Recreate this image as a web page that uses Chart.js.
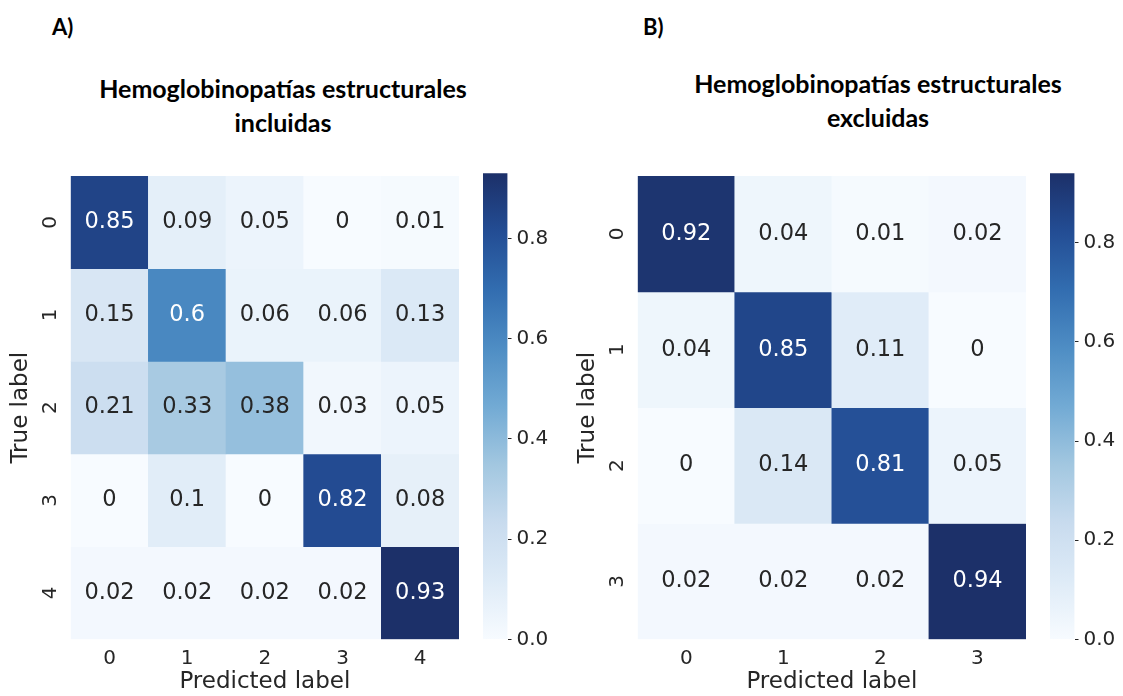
<!DOCTYPE html>
<html>
<head>
<meta charset="utf-8">
<script src="https://cdn.jsdelivr.net/npm/chart.js@4.4.1/dist/chart.umd.min.js"></script>
<style>
  html, body { margin: 0; padding: 0; background: #fff; }
  #page { position: relative; width: 1123px; height: 696px; overflow: hidden; }
  canvas { position: absolute; }
  .tag { position: absolute; font-family: Lato, "Open Sans", sans-serif; font-weight: 700;
         font-size: 22px; line-height: 26px; color: #000; }
  .ttl { position: absolute; width: 460px; font-family: Lato, "Open Sans", sans-serif; font-weight: 700;
         font-size: 25px; line-height: 34px; text-align: center; color: #000; }
</style>
</head>
<body>
<div id="page">
  <div class="tag" style="left:52px; top:14px;">A)</div>
  <div class="ttl" style="left:53px; top:71px;">Hemoglobinopatías estructurales<br>incluidas</div>
  <div class="tag" style="left:643px; top:14px;">B)</div>
  <div class="ttl" style="left:648px; top:66px;">Hemoglobinopatías estructurales<br>excluidas</div>

  <canvas id="heatA" width="470" height="546" style="left:0px; top:150px;"></canvas>
  <canvas id="barA"  width="110" height="546" style="left:470px; top:150px;"></canvas>
  <canvas id="heatB" width="470" height="546" style="left:567px; top:150px;"></canvas>
  <canvas id="barB"  width="86"  height="546" style="left:1037px; top:150px;"></canvas>
</div>

<script>
// ---- data -------------------------------------------------------------
const predictedA = ['0', '1', '2', '3', '4'];
const trueA      = ['0', '1', '2', '3', '4'];
const matrixA = [
  [0.85, 0.09, 0.05, 0,    0.01],
  [0.15, 0.6,  0.06, 0.06, 0.13],
  [0.21, 0.33, 0.38, 0.03, 0.05],
  [0,    0.1,  0,    0.82, 0.08],
  [0.02, 0.02, 0.02, 0.02, 0.93]
];

const predictedB = ['0', '1', '2', '3'];
const trueB      = ['0', '1', '2', '3'];
const matrixB = [
  [0.92, 0.04, 0.01, 0.02],
  [0.04, 0.85, 0.11, 0],
  [0,    0.14, 0.81, 0.05],
  [0.02, 0.02, 0.02, 0.94]
];

const colorbarStep = 0.2;

// ---- colour map (sequential blues) -------------------------------------
const BLUES = [
  [0.000, 247, 251, 255],
  [0.125, 222, 235, 247],
  [0.250, 200, 219, 238],
  [0.375, 162, 199, 224],
  [0.500, 114, 170, 212],
  [0.625,  78, 141, 196],
  [0.750,  50, 109, 176],
  [0.875,  35,  77, 148],
  [1.000,  28,  48, 105]
];

function bluesRGB(t) {
  t = Math.max(0, Math.min(1, t));
  for (let i = 1; i < BLUES.length; i++) {
    const a = BLUES[i - 1], b = BLUES[i];
    if (t <= b[0]) {
      const f = (t - a[0]) / (b[0] - a[0]);
      return [1, 2, 3].map(k => a[k] + (b[k] - a[k]) * f);
    }
  }
  return BLUES[BLUES.length - 1].slice(1);
}
const css = c => `rgb(${c.map(Math.round).join(',')})`;

function luminance(c) {
  const lin = c.map(v => { v /= 255; return v <= 0.03928 ? v / 12.92 : Math.pow((v + 0.055) / 1.055, 2.4); });
  return 0.2126 * lin[0] + 0.7152 * lin[1] + 0.0722 * lin[2];
}

const INK = '#262626';
const FONT = 'DejaVu Sans';

// ---- cell annotations ---------------------------------------------------
const cellText = {
  id: 'cellText',
  afterDatasetsDraw(chart, args, opts) {
    const ctx = chart.ctx;
    ctx.save();
    ctx.font = `22.5px "${FONT}"`;
    ctx.textAlign = 'center';
    ctx.textBaseline = 'middle';
    chart.data.datasets.forEach((ds, i) => {
      chart.getDatasetMeta(i).data.forEach((bar, j) => {
        const v = ds.data[j].v;
        const c = bluesRGB(v / opts.vmax);
        ctx.fillStyle = luminance(c) > 0.408 ? INK : '#ffffff';
        const p = bar.getCenterPoint();
        ctx.fillText(String(v), p.x, p.y);
      });
    });
    ctx.restore();
  }
};

function heatmap(id, cols, rows, matrix) {
  const vmax = Math.max(...matrix.flat());
  new Chart(document.getElementById(id), {
    type: 'bar',
    data: {
      labels: cols,
      datasets: rows.map((r, i) => ({
        label: r,
        data: matrix[i].map((v, j) => ({ x: cols[j], y: [i, i + 1], v })),
        backgroundColor: c => css(bluesRGB(c.raw.v / vmax)),
        borderWidth: 0,
        grouped: false,
        barPercentage: 1,
        categoryPercentage: 1
      }))
    },
    options: {
      responsive: false,
      animation: false,
      devicePixelRatio: 1,
      layout: { padding: { left: 0, top: 23.3, right: 11, bottom: 0 } },
      plugins: { legend: { display: false }, tooltip: { enabled: false }, cellText: { vmax } },
      scales: {
        x: {
          type: 'category',
          offset: true,
          grid: { display: false, drawTicks: false, tickLength: 0 },
          border: { display: false },
          ticks: { color: INK, font: { family: FONT, size: 20 }, padding: 7, maxRotation: 0 },
          title: { display: true, text: 'Predicted label', color: INK,
                   font: { family: FONT, size: 23 }, padding: { top: 0, bottom: 0 } },
          afterFit: s => { s.height = 56.7; }
        },
        y: {
          type: 'linear',
          min: 0,
          max: rows.length,
          reverse: true,
          grid: { display: false, drawTicks: false, tickLength: 0 },
          border: { display: false },
          afterBuildTicks: s => { s.ticks = rows.map((_, i) => ({ value: i + 0.5 })); },
          ticks: {
            callback: v => rows[Math.floor(v)],
            minRotation: 90, maxRotation: 90,
            crossAlign: 'center',
            padding: 14,
            color: INK,
            font: { family: FONT, size: 20 }
          },
          title: { display: true, text: 'True label', color: INK,
                   font: { family: FONT, size: 23 }, padding: { top: 7.5, bottom: 0 } },
          afterFit: s => { s.width = 70.7; }
        }
      }
    },
    plugins: [cellText]
  });
  return vmax;
}

function gradientFor(chart) {
  const a = chart.chartArea;
  if (!a) return '#ffffff';
  const g = chart.ctx.createLinearGradient(0, a.bottom, 0, a.top);
  BLUES.forEach(s => g.addColorStop(s[0], css(s.slice(1))));
  return g;
}

function colorbar(id, vmax, axisWidth) {
  new Chart(document.getElementById(id), {
    type: 'bar',
    data: {
      labels: [''],
      datasets: [{
        data: [[0, vmax]],
        backgroundColor: c => gradientFor(c.chart),
        borderWidth: 0,
        barPercentage: 1,
        categoryPercentage: 1
      }]
    },
    options: {
      responsive: false,
      animation: false,
      devicePixelRatio: 1,
      layout: { padding: { left: 13, top: 23.3, right: 0, bottom: 56.7 } },
      plugins: { legend: { display: false }, tooltip: { enabled: false } },
      scales: {
        x: { display: false },
        y: {
          position: 'right',
          min: 0,
          max: vmax,
          grid: { drawOnChartArea: false, drawTicks: true, tickLength: 4, color: INK, lineWidth: 1 },
          border: { display: false },
          ticks: {
            stepSize: colorbarStep,
            includeBounds: false,
            padding: 5,
            color: INK,
            font: { family: FONT, size: 20 },
            callback: v => Number(v).toFixed(1)
          },
          afterFit: s => { s.width = axisWidth; }
        }
      }
    }
  });
}

const vmaxA = heatmap('heatA', predictedA, trueA, matrixA);
colorbar('barA', vmaxA, 72.5);
const vmaxB = heatmap('heatB', predictedB, trueB, matrixB);
colorbar('barB', vmaxB, 48.5);
</script>
</body>
</html>
